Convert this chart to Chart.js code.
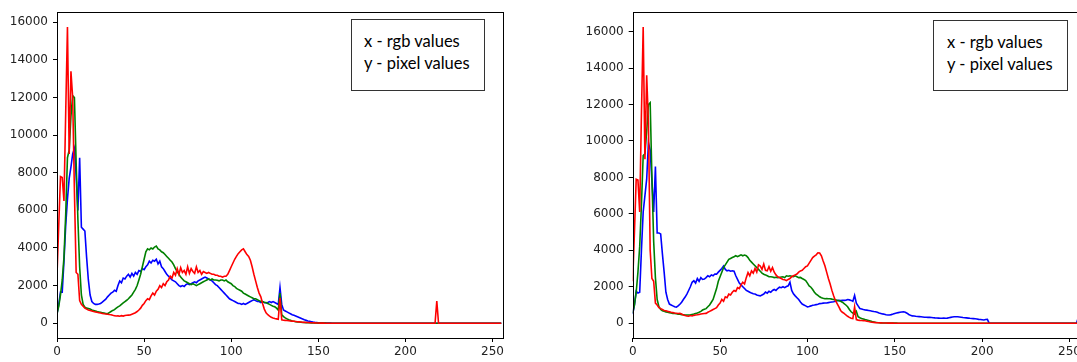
<!DOCTYPE html>
<html>
<head>
<meta charset="utf-8">
<script src="https://cdn.jsdelivr.net/npm/chart.js@4.4.1/dist/chart.umd.min.js"></script>
<style>
  html, body { margin:0; padding:0; background:#fff; overflow:hidden; width:1077px; height:362px; }
  canvas { position:absolute; top:0; }
  #c1 { left:0; }
  #c2 { left:560px; }
  .note { position:absolute; background:#fff; border:1px solid #333; box-sizing:border-box;
          font-family:Lato, "Open Sans", sans-serif; font-size:16.5px; line-height:21.6px; color:#000;
          padding-top:11px; white-space:nowrap; }
  #n1 { left:351px; top:19px; width:134px; height:72px; padding-left:12px; }
  #n2 { left:933px; top:20px; width:135px; height:71px; padding-left:13px; }
</style>
</head>
<body>
<canvas id="c1" width="512" height="362"></canvas>
<canvas id="c2" width="525" height="362"></canvas>
<div class="note" id="n1">x - rgb values<br>y - pixel values</div>
<div class="note" id="n2">x - rgb values<br>y - pixel values</div>
<script>
// ---- tick labels ----
const xTicks = [0, 50, 100, 150, 200, 250];
const yTicks = [0, 2000, 4000, 6000, 8000, 10000, 12000, 14000, 16000];

// ---- left histogram (image 1) ----
const leftBlue = [
500,1000,1650,1650,3300,5200,6600,7700,8300,9000,
9300,7800,6000,8800,5100,5000,4900,3500,2300,1500,
1150,1050,1000,1000,1020,1050,1120,1200,1280,1400,
1500,1600,1650,1750,1700,2000,2250,2150,2400,2350,
2500,2600,2450,2650,2500,2700,2600,2800,2750,2900,
2850,3000,3100,3300,3200,3350,3300,3400,3150,3300,
3000,2900,2750,2600,2500,2400,2300,2250,2200,2100,
2000,1950,2000,1950,2050,2100,2050,2100,2150,2200,
2150,2250,2300,2350,2400,2450,2400,2350,2300,2250,
2150,2050,2000,1900,1800,1700,1600,1500,1400,1300,
1250,1200,1150,1100,1050,1050,1000,1050,1000,1050,
1100,1150,1200,1250,1200,1150,1150,1100,1150,1100,
1080,1100,1150,1100,1150,1100,1050,1000,1900,1000,
700,650,600,550,500,450,420,380,340,300,
260,220,180,150,120,100,80,60,45,35,
25,20,15,10,8,5,3,2,1,0,
0,0,0,0,0,0,0,0,0,0,
0,0,0,0,0,0,0,0,0,0,
0,0,0,0,0,0,0,0,0,0,
0,0,0,0,0,0,0,0,0,0,
0,0,0,0,0,0,0,0,0,0,
0,0,0,0,0,0,0,0,0,0,
0,0,0,0,0,0,0,0,0,0,
0,0,0,0,0,0,0,0,0,0,
0,0,0,0,0,0,0,0,0,0,
0,0,0,0,0,0
];
const leftGreen = [
500,900,1500,2300,3500,5800,8800,9200,11000,12100,
12000,8500,5500,3000,1500,1000,850,800,780,750,
700,680,650,620,600,580,560,540,520,500,
560,620,680,720,800,870,920,1000,1080,1150,
1220,1300,1400,1500,1650,1800,2000,2300,2600,3000,
3400,3800,3950,3900,4000,3950,4050,4100,3950,3900,
3800,3750,3650,3550,3450,3350,3250,3100,2900,2750,
2600,2450,2350,2250,2200,2150,2100,2050,2100,2050,
2000,2050,2100,2150,2200,2250,2300,2350,2300,2350,
2300,2300,2280,2250,2300,2300,2250,2300,2200,2150,
2100,2000,1950,1850,1800,1750,1700,1600,1550,1500,
1450,1400,1350,1300,1300,1250,1200,1150,1150,1100,
1100,1050,1000,950,900,870,800,700,1600,450,
350,280,230,180,150,120,100,80,70,60,
50,40,35,30,25,20,15,12,10,8,
6,5,4,3,2,1,0,0,0,0,
0,0,0,0,0,0,0,0,0,0,
0,0,0,0,0,0,0,0,0,0,
0,0,0,0,0,0,0,0,0,0,
0,0,0,0,0,0,0,0,0,0,
0,0,0,0,0,0,0,0,0,0,
0,0,0,0,0,0,0,0,0,0,
0,0,0,0,0,0,0,0,0,0,
0,0,0,0,0,0,0,0,0,0,
0,0,0,0,0,0,0,0,0,0,
0,0,0,0,0,0
];
const leftRed = [
2550,5200,7800,7750,6500,11200,15750,9000,13400,12000,
7000,2700,2600,1200,1000,900,800,750,700,680,
650,620,600,580,560,540,520,500,490,480,
460,450,420,400,380,390,370,400,380,410,
420,430,440,480,520,560,620,700,800,950,
1050,1200,1300,1250,1450,1600,1500,1700,1800,2000,
1900,2100,2000,2200,2300,2500,2400,2700,2550,2900,
2600,2950,2700,2800,2600,3000,2650,2900,2750,2650,
3000,2700,2800,2600,2750,2700,2650,2700,2650,2600,
2600,2550,2550,2500,2500,2450,2500,2500,2600,2800,
3000,3200,3400,3550,3700,3800,3900,3950,3800,3650,
3550,3350,3000,2600,2250,1900,1600,1400,1050,750,
550,450,380,320,280,250,230,210,1350,180,
160,150,140,130,120,110,100,90,80,70,
60,50,45,40,35,30,25,20,15,10,
8,5,3,2,1,0,0,0,0,0,
0,0,0,0,0,0,0,0,0,0,
0,0,0,0,0,0,0,0,0,0,
0,0,0,0,0,0,0,0,0,0,
0,0,0,0,0,0,0,0,0,0,
0,0,0,0,0,0,0,0,0,0,
0,0,0,0,0,0,0,0,1180,0,
0,0,0,0,0,0,0,0,0,0,
0,0,0,0,0,0,0,0,0,0,
0,0,0,0,0,0,0,0,0,0,
0,0,0,0,0,0
];

// ---- right histogram (image 2) ----
const rightBlue = [
500,1000,1750,1650,1700,4000,6100,7000,7900,9900,
9500,7800,6100,8600,4950,4950,4900,3800,2800,1700,
1300,1050,1000,950,900,880,950,1040,1150,1300,
1435,1600,1795,2000,2245,2330,2200,2450,2300,2500,
2400,2420,2500,2600,2550,2650,2600,2700,2690,2800,
2900,3000,3140,2950,2875,2900,2850,2875,2850,2600,
2400,2200,2100,2000,1900,1800,1750,1700,1650,1615,
1600,1550,1525,1500,1550,1600,1705,1650,1750,1700,
1795,1850,1800,1900,1975,1950,2000,1950,2010,2050,
2250,1800,1615,1500,1400,1300,1165,1050,1000,950,
897,920,950,987,1000,1020,1040,1076,1080,1100,
1110,1110,1130,1150,1165,1180,1200,1230,1255,1240,
1255,1250,1255,1300,1280,1250,1200,1525,1100,950,
807,780,750,730,717,700,680,660,640,628,
600,560,537,510,490,460,447,450,470,500,
537,560,580,600,615,627,600,550,480,430,
400,393,380,370,360,350,340,330,325,320,
320,310,300,290,285,280,268,275,280,270,
280,300,320,340,350,357,350,340,330,310,
300,290,280,268,260,250,240,230,210,200,
190,178,200,214,0,0,0,0,0,0,
0,0,0,0,0,0,0,0,0,0,
0,0,0,0,0,0,0,0,0,0,
0,0,0,0,0,0,0,0,0,0,
0,0,0,0,0,0,0,0,0,0,
0,0,0,0,0,300
];
const rightGreen = [
550,1000,1700,2800,4200,6500,9200,9300,10500,12000,
12100,8000,4500,2500,1300,900,750,680,650,620,
600,580,560,540,530,520,500,490,470,460,
450,447,450,460,480,500,530,560,600,650,
720,760,800,900,1000,1150,1300,1600,1900,2300,
2550,2800,3050,3200,3350,3500,3550,3600,3650,3700,
3650,3700,3750,3700,3735,3700,3600,3450,3350,3250,
3150,3050,2950,2850,2750,2690,2650,2600,2550,2550,
2530,2500,2520,2500,2510,2530,2550,2500,2600,2580,
2600,2580,2550,2600,2550,2500,2510,2450,2400,2335,
2200,2050,1975,1850,1700,1600,1525,1450,1400,1370,
1345,1350,1340,1345,1320,1300,1280,1255,1230,1200,
1150,1076,1000,900,750,627,550,500,650,357,
300,260,230,200,178,150,120,90,70,50,
34,25,20,15,12,10,8,6,5,4,
3,2,1,0,0,0,0,0,0,0,
0,0,0,0,0,0,0,0,0,0,
0,0,0,0,0,0,0,0,0,0,
0,0,0,0,0,0,0,0,0,0,
0,0,0,0,0,0,0,0,0,0,
0,0,0,0,0,0,0,0,0,0,
0,0,0,0,0,0,0,0,0,0,
0,0,0,0,0,0,0,0,0,0,
0,0,0,0,0,0,0,0,0,0,
0,0,0,0,0,0,0,0,0,0,
0,0,0,0,0,0
];
const rightRed = [
2300,5000,7900,7850,6100,11500,16250,9000,13600,11000,
4000,2450,2300,1100,1000,850,800,750,700,680,
650,630,600,580,560,550,530,537,500,450,
420,393,380,420,400,430,447,460,480,500,
520,530,540,600,650,700,750,800,850,1000,
1100,1300,1200,1450,1400,1600,1550,1700,1800,1750,
1950,1900,2100,2245,2150,2500,2780,2600,2870,2750,
3000,2800,3200,3140,2950,3250,2900,2870,3100,2850,
3050,2800,2650,2550,2510,2450,2400,2380,2335,2400,
2450,2550,2600,2650,2700,2800,2870,2900,3000,3100,
3140,3300,3450,3600,3680,3750,3860,3850,3700,3410,
3150,2800,2450,2155,1800,1500,1250,1076,900,700,
600,537,450,380,320,268,250,897,200,170,
155,145,142,130,110,90,70,55,45,34,
28,22,18,14,10,8,6,4,3,2,
1,0,0,0,0,0,0,0,0,0,
0,0,0,0,0,0,0,0,0,0,
0,0,0,0,0,0,0,0,0,0,
0,0,0,0,0,0,0,0,0,0,
0,0,0,0,0,0,0,0,0,0,
0,0,0,0,0,0,0,0,0,0,
0,0,0,0,0,0,0,0,0,0,
0,0,0,0,0,0,0,0,0,0,
0,0,0,0,0,0,0,0,0,0,
0,0,0,0,0,0,0,0,0,0,
0,0,0,0,0,0
];

const framePlugin = {
  id: 'frame',
  afterDraw(chart) {
    const { ctx, chartArea: a } = chart;
    ctx.save();
    ctx.strokeStyle = '#000';
    ctx.lineWidth = 1;
    ctx.strokeRect(Math.round(a.left) + 0.5, Math.round(a.top) + 0.5,
                   Math.round(a.right - a.left), Math.round(a.bottom - a.top));
    ctx.restore();
  }
};

function toPoints(arr) { return arr.map((v, i) => ({ x: i, y: v })); }

function makeChart(id, blue, green, red, yMin, yMax, axisW, padRight) {
  const tickFont = { family: 'DejaVu Sans', size: 12 };
  const ds = (label, arr, color, order) => ({
    label, data: toPoints(arr), borderColor: color, borderWidth: 1.6,
    pointRadius: 0, tension: 0, fill: false, order
  });
  return new Chart(document.getElementById(id), {
    type: 'line',
    data: {
      datasets: [
        ds('r', red, '#ff0000', 0),
        ds('g', green, '#008000', 1),
        ds('b', blue, '#0000ff', 2)
      ]
    },
    options: {
      responsive: false,
      animation: false,
      events: [],
      layout: { padding: { top: 7, right: padRight, left: 0, bottom: 0 } },
      plugins: { legend: { display: false }, tooltip: { enabled: false } },
      scales: {
        x: {
          type: 'linear', min: 0, max: 256,
          afterBuildTicks: s => { s.ticks = xTicks.map(v => ({ value: v })); },
          afterFit: s => { s.height = 24; },
          border: { display: false },
          grid: { drawOnChartArea: false, drawTicks: true, tickLength: 4, color: '#000', lineWidth: 1 },
          ticks: { font: tickFont, color: '#222', padding: 3, maxRotation: 0, autoSkip: false,
                   callback: v => String(v) }
        },
        y: {
          type: 'linear', min: yMin, max: yMax,
          afterBuildTicks: s => { s.ticks = yTicks.map(v => ({ value: v })); },
          afterFit: s => { s.width = axisW; },
          border: { display: false },
          grid: { drawOnChartArea: false, drawTicks: true, tickLength: 4, color: '#000', lineWidth: 1 },
          ticks: { font: tickFont, color: '#222', padding: 5, autoSkip: false,
                   callback: v => String(v) }
        }
      }
    },
    plugins: [framePlugin]
  });
}

makeChart('c1', leftBlue, leftGreen, leftRed, -787, 16537, 57, 9);
makeChart('c2', rightBlue, rightGreen, rightRed, -812, 17062, 72.7, 5);
</script>
</body>
</html>
